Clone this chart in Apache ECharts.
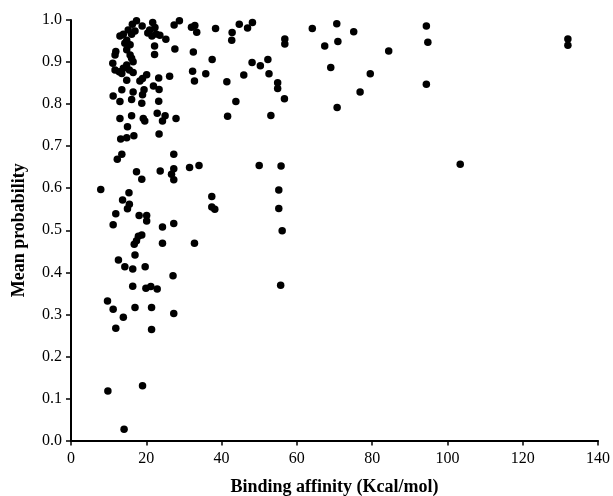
<!DOCTYPE html>
<html>
<head>
<meta charset="utf-8">
<script src="https://cdn.jsdelivr.net/npm/echarts@6/dist/echarts.min.js"></script>
<style>
  html, body { margin: 0; padding: 0; background: #fff; }
  #chart { width: 613px; height: 496px; }
</style>
</head>
<body>
<div id="chart"></div>
<script>
// binding affinity (x) and mean probability (y)
const affinity = [
  64.1, 70.6, 75.1, 67.4, 70.9, 84.4, 69.0, 79.5, 76.8, 70.7,
  94.4, 94.8, 94.4, 103.4, 132.0, 132.0,
  27.4, 28.8, 32.0, 32.9, 33.4, 38.4, 44.7, 42.8, 42.7, 46.9,
  48.2, 56.8, 56.8, 22.2, 22.2, 25.2, 27.6, 32.5, 37.5, 48.1,
  50.3, 52.3, 32.3, 35.8, 32.8, 41.4, 45.9, 52.6, 54.9, 54.9,
  56.7, 43.8, 41.6, 53.1, 23.3, 21.9, 23.4, 26.2, 23.3, 22.9,
  25.0, 24.3, 27.9, 23.4, 27.3, 23.7, 27.3, 26.7, 27.3, 31.5,
  34.0, 50.0, 55.8, 55.2, 55.2, 56.1, 55.7, 37.4, 37.4, 38.2,
  24.3, 27.3, 24.3, 32.8, 27.1, 21.2, 22.9, 21.4, 27.3, 21.4,
  17.4, 16.3, 18.9, 21.7, 20.4, 21.5, 22.6, 23.6, 20.9, 22.3,
  13.9, 15.2, 16.1, 17.0, 13.0, 14.8, 14.3, 15.7, 11.9, 11.7,
  14.8, 15.7, 16.1, 16.5, 11.1, 11.7, 13.9, 14.8, 15.5, 16.5,
  12.8, 13.5, 14.8, 20.1, 19.0, 18.3, 19.4, 19.0, 16.5, 16.1,
  13.5, 11.2, 13.0, 18.8, 13.0, 16.1, 19.2, 15.0, 19.6, 13.2,
  14.8, 16.7, 13.5, 12.3, 17.4, 18.8, 7.9, 15.4, 13.7, 15.5,
  15.0, 11.9, 18.1, 20.1, 20.1, 11.2, 17.9, 18.8, 17.4, 16.8,
  17.0, 12.6, 14.3, 16.4, 19.7, 16.4, 19.9, 9.7, 11.2, 17.0,
  13.9, 11.9, 9.8, 19.0, 14.1
];
const probability = [
  0.980, 0.991, 0.972, 0.938, 0.949, 0.926, 0.887, 0.872, 0.829, 0.792,
  0.986, 0.947, 0.847, 0.657, 0.955, 0.940,
  0.988, 0.998, 0.983, 0.987, 0.971, 0.980, 0.990, 0.970, 0.952, 0.981,
  0.994, 0.955, 0.943, 0.938, 0.918, 0.954, 0.931, 0.924, 0.906, 0.899,
  0.891, 0.906, 0.878, 0.872, 0.855, 0.853, 0.869, 0.872, 0.851, 0.837,
  0.813, 0.806, 0.771, 0.773, 0.862, 0.843, 0.835, 0.866, 0.807, 0.778,
  0.772, 0.760, 0.766, 0.729, 0.681, 0.641, 0.646, 0.633, 0.620, 0.649,
  0.654, 0.654, 0.653, 0.596, 0.552, 0.499, 0.369, 0.580, 0.555, 0.550,
  0.508, 0.516, 0.469, 0.469, 0.392, 0.366, 0.360, 0.316, 0.302, 0.264,
  0.998, 0.990, 0.986, 0.994, 0.969, 0.962, 0.967, 0.964, 0.976, 0.982,
  0.966, 0.976, 0.966, 0.974, 0.962, 0.952, 0.945, 0.941, 0.925, 0.917,
  0.929, 0.917, 0.909, 0.901, 0.897, 0.881, 0.885, 0.893, 0.881, 0.875,
  0.877, 0.873, 0.857, 0.870, 0.861, 0.855, 0.834, 0.822, 0.829, 0.811,
  0.834, 0.819, 0.806, 0.802, 0.766, 0.772, 0.766, 0.746, 0.760, 0.717,
  0.720, 0.725, 0.681, 0.669, 0.639, 0.621, 0.597, 0.589, 0.572, 0.562,
  0.551, 0.539, 0.535, 0.535, 0.522, 0.513, 0.486, 0.489, 0.475, 0.467,
  0.441, 0.429, 0.413, 0.408, 0.413, 0.367, 0.362, 0.332, 0.312, 0.316,
  0.293, 0.267, 0.118, 0.130, 0.027
];

const xTicks = [0, 20, 40, 60, 80, 100, 120, 140];

const chart = echarts.init(document.getElementById('chart'));
const font = 'Liberation Serif, Times New Roman, serif';

chart.setOption({
  animation: false,
  grid: { left: 71, right: 15, top: 20, bottom: 55.5, containLabel: false, outerBoundsMode: 'none' },
  xAxis: {
    type: 'value', min: xTicks[0], max: xTicks[xTicks.length - 1], interval: 20,
    name: 'Binding affinity (Kcal/mol)', nameLocation: 'middle', nameGap: 38,
    nameTextStyle: { fontFamily: font, fontSize: 18, fontWeight: 'bold', color: '#000' },
    axisLine: { lineStyle: { color: '#000', width: 2 } },
    axisTick: { show: true, length: 5, lineStyle: { color: '#000', width: 1.5 } },
    axisLabel: { fontFamily: font, fontSize: 16, color: '#000', margin: 10 },
    splitLine: { show: false }
  },
  yAxis: {
    type: 'value', min: 0, max: 1, interval: 0.1,
    name: 'Mean probability', nameLocation: 'middle', nameGap: 43,
    nameTextStyle: { fontFamily: font, fontSize: 18, fontWeight: 'bold', color: '#000' },
    axisLine: { show: true, lineStyle: { color: '#000', width: 2 } },
    axisTick: { show: true, length: 5, lineStyle: { color: '#000', width: 1.5 } },
    axisLabel: { fontFamily: font, fontSize: 16, color: '#000', margin: 9,
      formatter: v => v.toFixed(1) },
    splitLine: { show: false }
  },
  series: [{
    type: 'scatter',
    symbolSize: 7.5,
    itemStyle: { color: '#000', opacity: 1 },
    data: affinity.map((x, i) => [x, probability[i]])
  }]
});
</script>
</body>
</html>
